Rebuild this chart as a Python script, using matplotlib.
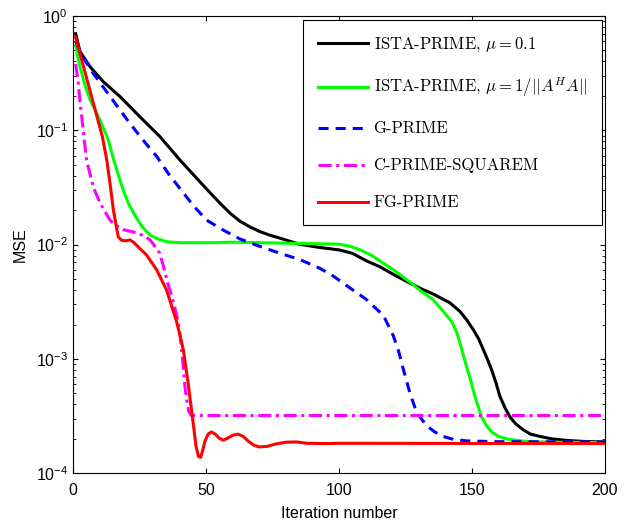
import matplotlib
matplotlib.use("Agg")
import matplotlib.pyplot as plt
from matplotlib.font_manager import FontProperties

plt.rcParams['font.family'] = ['Liberation Sans', 'DejaVu Sans']
plt.rcParams['mathtext.fontset'] = 'custom'
plt.rcParams['mathtext.rm'] = 'Liberation Sans'
plt.rcParams['mathtext.it'] = 'Liberation Sans:italic'
plt.rcParams['mathtext.bf'] = 'Liberation Sans:bold'

# ---- data ----
ista01_x = [1, 2.6, 6.4, 11.4, 17.7, 25.2, 32.7, 40.2, 47.7, 51.5, 55.3, 59, 62.8, 66.5, 70.3, 74,
            77.8, 85, 92, 100, 105, 110.4, 115.4, 120.4, 126.7, 131, 135.4, 141.7, 145.5, 148,
            150.5, 152.5, 154.3, 156, 157.4, 159, 160.5, 162.5, 164.3, 166.5, 169.3, 172, 175.6,
            180, 185.6, 192, 200]
ista01_y = [0.70, 0.49, 0.36, 0.266, 0.197, 0.131, 0.088, 0.055, 0.0355, 0.0285, 0.023, 0.0189,
            0.0160, 0.0143, 0.0130, 0.0121, 0.0114, 0.0101, 0.0095, 0.0090, 0.0084, 0.0072,
            0.0064, 0.0055, 0.0046, 0.0041, 0.0037, 0.0031, 0.0026, 0.0022, 0.0018, 0.0015,
            0.0012, 0.00097, 0.00080, 0.00062, 0.00047, 0.00037, 0.00031, 0.00027, 0.00024,
            0.00022, 0.00021, 0.000200, 0.000194, 0.000190, 0.000188]

istaL_x = [1, 2.6, 4.5, 6.4, 9, 11.4, 13.3, 15.2, 17, 18.9, 20.8, 22.7, 25, 27, 29, 32, 35.2, 40,
           50, 60, 70, 80, 90, 100, 104, 108, 112.9, 117, 121, 126.7, 131, 135.4, 140.5, 142.5,
           144.3, 146, 148, 149.5, 151.1, 153.6, 155.5, 157.4, 160, 163, 166, 170.5, 180, 200]
istaL_y = [0.55, 0.36, 0.25, 0.185, 0.14, 0.105, 0.082, 0.056, 0.041, 0.030, 0.023, 0.019, 0.0155,
           0.0135, 0.0121, 0.0112, 0.0106, 0.0104, 0.0104, 0.0105, 0.0104, 0.0103, 0.0102, 0.0101,
           0.0097, 0.0090, 0.0079, 0.0068, 0.0059, 0.0047, 0.0039, 0.0033, 0.0024, 0.0021,
           0.0017, 0.00125, 0.00085, 0.00065, 0.00047, 0.00031, 0.00026, 0.00023, 0.000210,
           0.000200, 0.000195, 0.000190, 0.000187, 0.000186]

gprime_x = [1, 2.5, 3.9, 7.6, 12.7, 17.7, 21.4, 25.8, 31.5, 35.8, 40.2, 45.2, 50.2, 56.5, 62.8, 70,
            77.8, 85.3, 92.9, 97.9, 104, 110.4, 116.7, 120.4, 122.5, 124.2, 126.7, 129.2, 133,
            136, 139.2, 143, 148, 160, 200]
gprime_y = [0.60, 0.50, 0.43, 0.315, 0.217, 0.150, 0.115, 0.085, 0.059, 0.042, 0.031, 0.022,
            0.0164, 0.0134, 0.0112, 0.0097, 0.0084, 0.0074, 0.0062, 0.0053, 0.0042, 0.0033,
            0.0024, 0.0016, 0.00115, 0.00081, 0.00050, 0.00034, 0.00026, 0.00023, 0.00021,
            0.000198, 0.000192, 0.000189, 0.000188]

csq_x = [1, 2, 2.6, 3.3, 3.9, 5.1, 7.6, 10.2, 13.9, 16, 19, 22, 24, 27, 29, 31, 32.5, 34, 35.5,
         37.5, 39, 40.2, 41.2, 42, 42.7, 43.5, 44.5, 200]
csq_y = [0.38, 0.258, 0.18, 0.131, 0.095, 0.055, 0.032, 0.023, 0.0164, 0.0148, 0.0135, 0.0130,
         0.0127, 0.0118, 0.0110, 0.0095, 0.0085, 0.0065, 0.0047, 0.0033, 0.0024, 0.0017, 0.0010,
         0.0006, 0.00044, 0.00035, 0.00032, 0.00032]

fg_x = [1, 3, 5, 7, 9, 11, 12.7, 14, 15.2, 16.2, 17, 18.3, 20, 21.4, 23, 24, 27.7, 31.5, 35.2, 39,
        41.5, 43.3, 44.6, 45.5, 46.3, 47.2, 48, 48.8, 49.6, 50.8, 52, 53.5, 55, 56.5, 58, 60, 62,
        64, 66, 68, 70, 73, 76, 80, 84, 88, 95, 100, 200]
fg_y = [0.65, 0.435, 0.293, 0.197, 0.132, 0.089, 0.055, 0.033, 0.020, 0.0148, 0.0117, 0.0109,
        0.0108, 0.0110, 0.0104, 0.0098, 0.0081, 0.0060, 0.0040, 0.0021, 0.0012, 0.00061,
        0.00035, 0.00024, 0.00017, 0.00014, 0.000138, 0.00016, 0.00019, 0.00022, 0.00023,
        0.00022, 0.000202, 0.000195, 0.000202, 0.000215, 0.00022, 0.00021, 0.00019, 0.000176,
        0.00017, 0.000172, 0.00018, 0.000187, 0.000188, 0.000183, 0.000182, 0.000183, 0.000182]

labels = [r'ISTA-PRIME, $\mu=0.1$', r'ISTA-PRIME, $\mu=1/||A^HA||$', 'G-PRIME',
          'C-PRIME-SQUAREM', 'FG-PRIME']
x_ticks = [0, 50, 100, 150, 200]

# ---- figure ----
fig = plt.figure(figsize=(6.31, 5.24), dpi=100)
ax = fig.add_axes([73/631, 1-473.3/524, 532/631, 457.3/524])

lw = 2.2
ax.semilogy(ista01_x, ista01_y, color='black', lw=lw, label=labels[0])
ax.semilogy(istaL_x, istaL_y, color='#00ff00', lw=lw, label=labels[1])
ax.semilogy(gprime_x, gprime_y, color='#0000ff', lw=lw, linestyle=(0, (3.3, 2.3)), label=labels[2])
ax.semilogy(csq_x, csq_y, color='#ff00ff', lw=lw, linestyle=(0, (4.3, 1.5, 1.0, 1.5)), label=labels[3])
ax.semilogy(fg_x, fg_y, color='#ff0000', lw=lw, label=labels[4])

ax.set_xlim(0, 200)
ax.set_ylim(1e-4, 1e0)
ax.set_xticks(x_ticks)
ax.set_xlabel('Iteration number', fontsize=11.5, labelpad=6)
ax.set_ylabel('MSE', fontsize=11.5, labelpad=6)
ax.tick_params(which='both', direction='in', top=True, right=True, labelsize=11.5)
ax.tick_params(which='major', length=3.6, width=0.8)
ax.tick_params(which='minor', length=2.0, width=0.6)
ax.tick_params(axis='x', which='both', pad=7)
for s in ax.spines.values():
    s.set_linewidth(0.8)

lp = FontProperties(family='cmr10', size=12, math_fontfamily='cm')
leg = ax.legend(loc='upper right', bbox_to_anchor=(0.9944, 0.991), borderaxespad=0,
                prop=lp, frameon=True, fancybox=False, framealpha=1, edgecolor='black',
                handlelength=3.0, handletextpad=0.35, labelspacing=1.3, borderpad=0.9)
leg.get_frame().set_linewidth(0.8)

fig.savefig('out.png', dpi=100)
